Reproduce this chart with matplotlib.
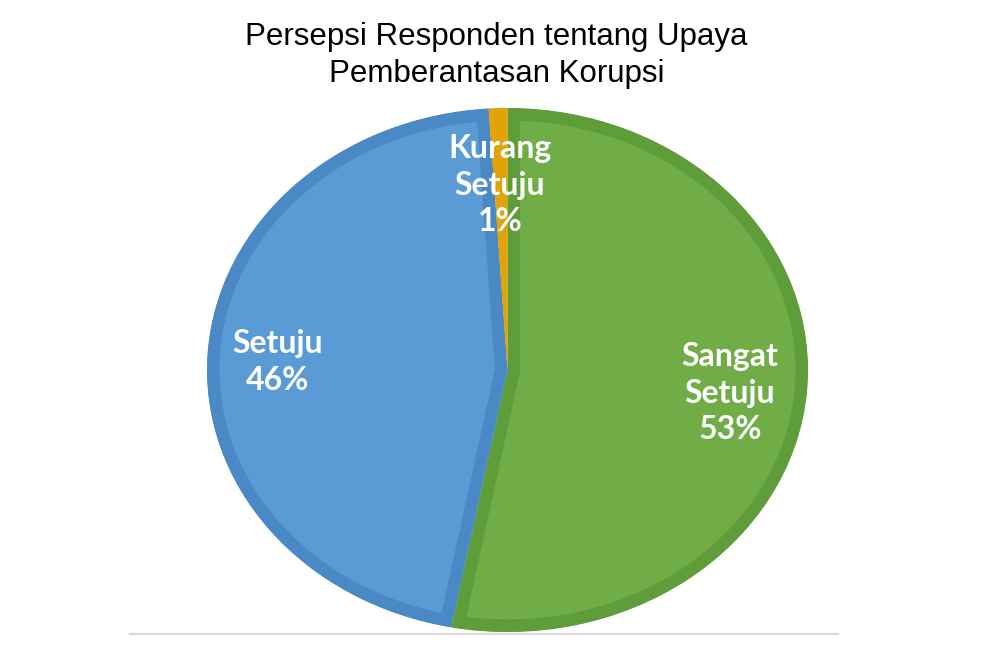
import matplotlib
matplotlib.use("Agg")
import matplotlib.pyplot as plt
from matplotlib.lines import Line2D

title = "Persepsi Responden tentang Upaya\nPemberantasan Korupsi"
labels = ["Sangat\nSetuju", "Setuju", "Kurang\nSetuju"]
values = [53, 46, 1]
fills = ["#70AD47", "#5B9BD5", "#EDB00C"]
edges = ["#5F9C3A", "#4A89C6", "#E0A308"]

fig = plt.figure(figsize=(9.87, 6.54), dpi=100)
ax = fig.add_axes([207/987, 22/654, 601/987, 524/654])

wedges, _ = ax.pie(values, colors=fills, startangle=90, counterclock=False,
                   radius=1.0, wedgeprops=dict(linewidth=18))
ax.set_aspect("auto")
ax.set_xlim(-1.0, 1.0)
ax.set_ylim(-1.0, 1.0)
# darker border kept inside each slice
for w, ec in zip(wedges, edges):
    w.set_edgecolor(ec)
    w.set_clip_on(True)
    w.set_clip_path(w)
ax.axis("off")

# label spots (axes data coords)
label_pos = [(0.74, -0.088), (-0.765, 0.03), (-0.025, 0.706)]
for lab, v, (x, y) in zip(labels, values, label_pos):
    ax.text(x, y, f"{lab}\n{v}%", ha="center", va="center", color="white",
            fontsize=23, fontweight="bold", family="Lato", linespacing=1.32)

fig.text(0.503, 0.915, title, ha="center", va="center", fontsize=22.5,
         family="Liberation Sans", linespacing=1.3)

fig.add_artist(Line2D([130/987, 838/987], [20/654, 20/654], color="#D9D9D9", lw=1.5))

fig.savefig("out.png", dpi=100)
